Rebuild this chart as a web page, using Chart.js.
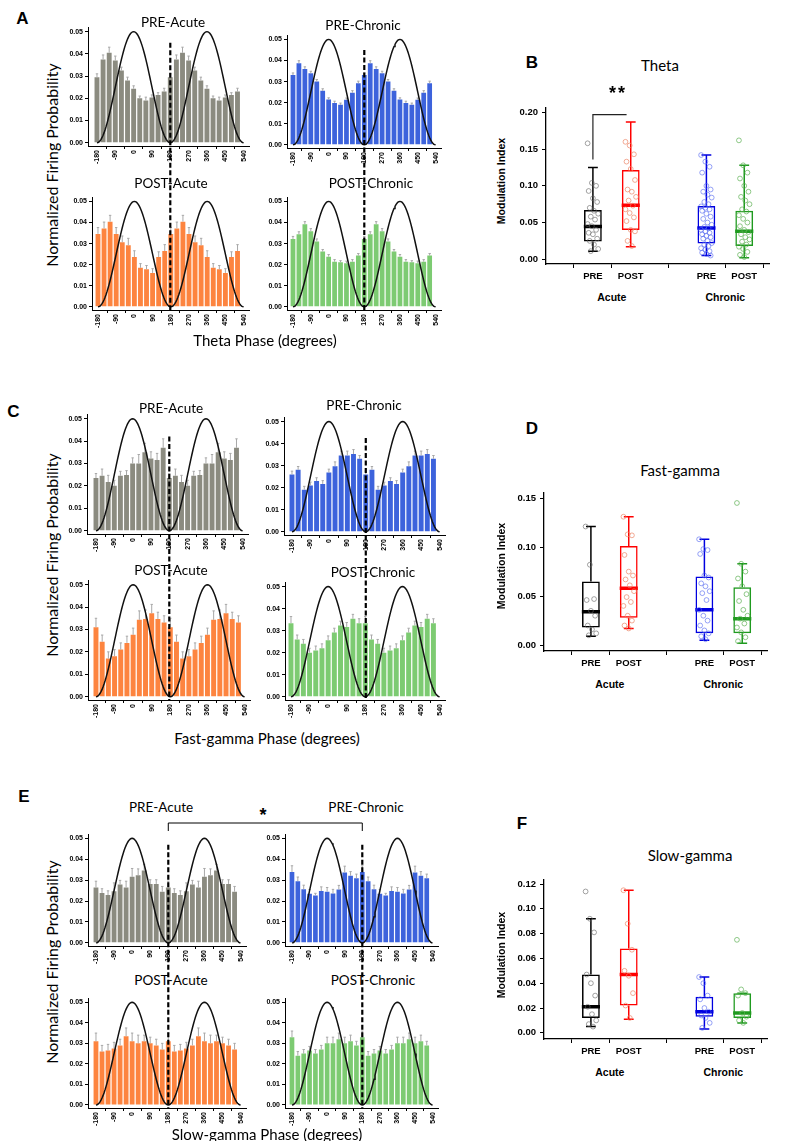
<!DOCTYPE html>
<html>
<head>
<meta charset="utf-8">
<script src="https://cdn.jsdelivr.net/npm/chart.js@4.4.1/dist/chart.umd.min.js"></script>
<style>
  html, body { margin:0; padding:0; background:#fff; }
  #page { position:relative; width:797px; height:1141px; overflow:hidden; background:#fff; }
  canvas { position:absolute; }
  .txt { position:absolute; white-space:nowrap; transform:translate(-50%,-50%); color:#000; line-height:1; }
  .ttl { font-family:Lato, 'Open Sans', sans-serif; font-size:13.5px; }
  .big { font-family:Lato, 'Open Sans', sans-serif; font-size:16px; }
  .let { font-family:'Liberation Sans', Arial, sans-serif; font-weight:bold; font-size:17px; }
  .bld { font-family:'Liberation Sans', Arial, sans-serif; font-weight:bold; }
  svg { position:absolute; left:0; top:0; }
</style>
</head>
<body>
<div id="page"></div>
<script>
// ---- phase histograms ----
const phaseBins = [-180,-150,-120,-90,-60,-30,0,30,60,90,120,150,180,210,240,270,300,330,360,390,420,450,480,510];
const phaseTicks = [-180,-90,0,90,180,270,360,450,540];
const probTicks = [0,0.01,0.02,0.03,0.04,0.05];

// one cycle (12 x 30 deg bins), plotted twice
const thetaPreAcute = [0.0295,0.0375,0.0405,0.037,0.0325,0.028,0.0243,0.020,0.019,0.0203,0.0215,0.023];
const thetaPreAcuteErr = [0.0015,0.002,0.0025,0.002,0.0015,0.0015,0.0013,0.001,0.0015,0.0012,0.001,0.0015];
const thetaPreChronic = [0.0331,0.0387,0.036,0.0339,0.030,0.0256,0.0215,0.0199,0.019,0.0214,0.0247,0.0292];
const thetaPreChronicErr = [0.001,0.0012,0.001,0.001,0.001,0.001,0.0008,0.0008,0.0008,0.0008,0.001,0.001];
const thetaPostAcute = [0.0346,0.0372,0.0404,0.0346,0.0306,0.0292,0.0236,0.0185,0.0178,0.0161,0.0236,0.0265];
const thetaPostAcuteErr = [0.003,0.003,0.003,0.003,0.003,0.0033,0.003,0.002,0.0018,0.002,0.0025,0.003];
const thetaPostChronic = [0.0322,0.0344,0.0392,0.0359,0.031,0.0262,0.0238,0.0214,0.0211,0.0207,0.0214,0.0243];
const thetaPostChronicErr = [0.0012,0.0012,0.0012,0.0012,0.0012,0.001,0.001,0.001,0.0008,0.001,0.001,0.001];

const fastPreAcute = [0.0235,0.0245,0.0217,0.020,0.0245,0.0248,0.030,0.030,0.035,0.0322,0.0315,0.037];
const fastPreAcuteErr = [0.002,0.003,0.003,0.0025,0.002,0.002,0.0025,0.004,0.004,0.003,0.003,0.004];
const fastPreChronic = [0.026,0.0281,0.0191,0.021,0.023,0.0217,0.0269,0.0297,0.0346,0.0346,0.0353,0.0331];
const fastPreChronicErr = [0.0015,0.0015,0.0015,0.0015,0.0015,0.0015,0.0015,0.002,0.002,0.002,0.002,0.0015];
const fastPostAcute = [0.031,0.0245,0.017,0.018,0.021,0.024,0.0276,0.0343,0.0347,0.0372,0.0347,0.0331];
const fastPostAcuteErr = [0.004,0.003,0.003,0.003,0.003,0.003,0.003,0.004,0.004,0.004,0.003,0.003];
const fastPostChronic = [0.0334,0.026,0.024,0.020,0.021,0.022,0.0256,0.0291,0.0323,0.0317,0.0354,0.0334];
const fastPostChronicErr = [0.003,0.002,0.002,0.002,0.002,0.002,0.002,0.002,0.002,0.002,0.002,0.002];

const slowPreAcute = [0.0265,0.0239,0.0229,0.0247,0.0279,0.0265,0.0316,0.0324,0.0346,0.0282,0.0282,0.0245];
const slowPreAcuteErr = [0.003,0.002,0.002,0.004,0.002,0.003,0.004,0.003,0.003,0.002,0.002,0.0025];
const slowPreChronic = [0.0339,0.0295,0.0256,0.0235,0.0227,0.0248,0.0245,0.0236,0.0255,0.0337,0.0321,0.0309];
const slowPreChronicErr = [0.003,0.002,0.002,0.002,0.001,0.002,0.002,0.002,0.002,0.003,0.002,0.002];
const slowPostAcute = [0.031,0.026,0.0265,0.0275,0.029,0.0335,0.031,0.030,0.031,0.030,0.029,0.027];
const slowPostAcuteErr = [0.004,0.003,0.003,0.003,0.003,0.004,0.004,0.004,0.003,0.003,0.003,0.003];
const slowPostChronic = [0.033,0.024,0.025,0.0265,0.025,0.027,0.030,0.030,0.032,0.030,0.031,0.029];
const slowPostChronicErr = [0.003,0.002,0.002,0.002,0.002,0.002,0.003,0.003,0.003,0.003,0.003,0.002];

// ---- modulation index box plots ----
const boxX = [1, 2, 4, 5];
const boxTicks = ['PRE', 'POST', 'PRE', 'POST'];
const groupNames = ['Acute', 'Chronic'];
// [min, q1, median, q3, max]: Acute PRE, Acute POST, Chronic PRE, Chronic POST
const thetaBoxes = [[0.011,0.024,0.0445,0.067,0.125],[0.017,0.0398,0.0737,0.1216,0.187],[0.005,0.0214,0.0424,0.0724,0.142],[0.002,0.018,0.038,0.066,0.128]];
const thetaAcutePre = [0.158,0.104,0.100,0.093,0.083,0.078,0.070,0.066,0.062,0.058,0.054,0.048,0.045,0.040,0.036,0.034,0.028,0.025,0.020,0.014,0.011];
const thetaAcutePost = [0.160,0.155,0.143,0.133,0.123,0.108,0.095,0.092,0.085,0.080,0.073,0.068,0.063,0.057,0.052,0.040,0.038,0.025,0.018];
const thetaChronicPre = [0.142,0.133,0.126,0.118,0.100,0.095,0.092,0.088,0.084,0.078,0.075,0.072,0.070,0.068,0.066,0.062,0.058,0.055,0.050,0.047,0.044,0.042,0.040,0.038,0.036,0.034,0.032,0.030,0.028,0.025,0.022,0.020,0.018,0.015,0.013,0.011,0.009,0.007,0.005];
const thetaChronicPost = [0.162,0.128,0.118,0.110,0.100,0.092,0.085,0.080,0.075,0.068,0.065,0.060,0.055,0.050,0.045,0.040,0.037,0.034,0.030,0.027,0.024,0.020,0.017,0.014,0.010,0.006,0.003];

const fastBoxes = [[0.009,0.018,0.034,0.065,0.121],[0.017,0.028,0.058,0.101,0.131],[0.005,0.012,0.036,0.070,0.108],[0.002,0.012,0.027,0.059,0.083]];
const fastAcutePre = [0.121,0.082,0.047,0.046,0.035,0.030,0.020,0.016,0.012,0.010];
const fastAcutePost = [0.131,0.113,0.112,0.092,0.075,0.071,0.067,0.061,0.055,0.049,0.044,0.040,0.030,0.025,0.020,0.017];
const fastChronicPre = [0.108,0.098,0.097,0.093,0.071,0.069,0.063,0.060,0.055,0.053,0.046,0.036,0.030,0.025,0.020,0.015,0.012,0.009,0.006];
const fastChronicPost = [0.145,0.083,0.075,0.068,0.060,0.052,0.045,0.036,0.030,0.027,0.022,0.018,0.013,0.008,0.004];

const slowBoxes = [[0.005,0.012,0.021,0.047,0.092],[0.011,0.022,0.047,0.068,0.115],[0.003,0.013,0.017,0.029,0.045],[0.008,0.012,0.016,0.032,0.032]];
const slowAcutePre = [0.114,0.092,0.081,0.047,0.040,0.030,0.021,0.015,0.010,0.007,0.005];
const slowAcutePost = [0.115,0.088,0.067,0.050,0.046,0.032,0.022,0.012];
const slowChronicPre = [0.045,0.040,0.030,0.027,0.020,0.017,0.014,0.012,0.008,0.004];
const slowChronicPost = [0.075,0.035,0.032,0.030,0.016,0.013,0.010,0.008];

const GREY = '#8b8b80', BLUE = '#3d63dc', ORANGE = '#fd843f', GREEN = '#7dcb72';
const boxColors = ['#000000', '#ff0000', '#0000e0', '#1f9a1f'];
const ptColors = ['rgba(100,100,100,0.75)', 'rgba(235,130,100,0.85)', 'rgba(80,100,240,0.75)', 'rgba(90,175,80,0.85)'];

Chart.defaults.font.family = "'Liberation Sans', Arial, sans-serif";
Chart.defaults.color = '#000';

const page = document.getElementById('page');

// reference phase wave (cosine, trough at +/-180)
const refWave = [];
for (let d = -180; d <= 540; d += 5) refWave.push({x: d, y: 0.025 * (1 + Math.cos(d * Math.PI / 180))});

function addCanvas(left, top, w, h) {
  const cv = document.createElement('canvas');
  cv.width = Math.round(w); cv.height = Math.round(h);
  cv.style.left = Math.round(left) + 'px'; cv.style.top = Math.round(top) + 'px';
  cv.style.width = Math.round(w) + 'px'; cv.style.height = Math.round(h) + 'px';
  page.appendChild(cv);
  return cv;
}

function addText(txt, x, y, cls, extra) {
  const d = document.createElement('div');
  d.className = 'txt ' + cls;
  d.textContent = txt;
  d.style.left = x + 'px'; d.style.top = y + 'px';
  if (extra) Object.assign(d.style, extra);
  page.appendChild(d);
  return d;
}

const errorBars = {
  id: 'errorBars',
  afterDatasetDraw(chart, args) {
    const ds = chart.data.datasets[args.index];
    if (!ds.errors) return;
    const ctx = chart.ctx, ys = chart.scales.y;
    ctx.save();
    ctx.strokeStyle = '#a8a8a8'; ctx.lineWidth = 1;
    args.meta.data.forEach((bar, i) => {
      const yt = ys.getPixelForValue(ds.data[i].y + ds.errors[i]);
      ctx.beginPath();
      ctx.moveTo(bar.x, bar.y); ctx.lineTo(bar.x, yt);
      ctx.moveTo(bar.x - 1.2, yt); ctx.lineTo(bar.x + 1.2, yt);
      ctx.stroke();
    });
    ctx.restore();
  }
};

const Y_MIN = -0.0015, Y_MAX = 0.052, YW = 24, XH = 22;

function hist(g, vals, errs, color) {
  const unit = (g.y00 - g.y05) / 0.05;
  const degPx = (g.x1 - g.x0) / 720;
  const top = g.y00 - Y_MAX * unit, bottom = g.y00 - Y_MIN * unit;
  const left = g.ax - YW, right = g.x1 + 6;
  const cv = addCanvas(left, top, right - left + 3, bottom - top + XH);
  return new Chart(cv, {
    type: 'bar',
    data: {
      datasets: [
        {type: 'line', data: refWave, borderColor: '#111', borderWidth: 1.5, pointRadius: 0, order: 0},
        {type: 'bar', data: phaseBins.map((x, i) => ({x, y: vals[i % 12]})), errors: phaseBins.map((x, i) => errs[i % 12]),
         backgroundColor: color, barPercentage: 0.8, categoryPercentage: 1, order: 1}
      ]
    },
    options: {
      responsive: false, animation: false, events: [],
      layout: {padding: 0},
      plugins: {legend: {display: false}, tooltip: {enabled: false}},
      scales: {
        x: {type: 'linear', offset: false, min: -180 - (g.x0 - g.ax) / degPx, max: 540 + 6 / degPx,
            afterBuildTicks: s => { s.ticks = phaseTicks.map(v => ({value: v})); },
            afterFit: s => { s.height = XH; },
            ticks: {autoSkip: false, minRotation: 90, maxRotation: 90, padding: 1, font: {size: 7, weight: 'bold'}},
            grid: {drawOnChartArea: false, tickLength: 3, color: '#000'},
            border: {color: '#000'}},
        y: {min: Y_MIN, max: Y_MAX,
            afterBuildTicks: s => { s.ticks = probTicks.map(v => ({value: v})); },
            afterFit: s => { s.width = YW; },
            ticks: {padding: 2, font: {size: 7, weight: 'bold'}, callback: v => v.toFixed(2)},
            grid: {drawOnChartArea: false, tickLength: 3, color: '#000'},
            border: {color: '#000'}}
      }
    },
    plugins: [errorBars]
  });
}

const BYW = 38, BXH = 22, XPX = 38, BXMIN = -0.24, BXMAX = 5.66;

function boxPlot(g, yTicks, stats, pts, extra) {
  const unit = (g.p0 - g.p1) / g.v1;
  const top = g.p0 - g.ymax * unit, bottom = g.p0 - g.ymin * unit;
  const left = g.ax - BYW, width = BYW + (BXMAX - BXMIN) * XPX + 4;
  const cv = addCanvas(left, top, width, bottom - top + BXH);
  const datasets = [];
  stats.forEach((s, i) => {
    const bx = boxX[i];
    datasets.push({type: 'scatter', data: pts[i].map((v, k) => ({x: bx + (((k * 37) % 11) - 5) * 0.028, y: v})),
      pointRadius: 2.4, pointBorderWidth: 0.8, borderColor: ptColors[i], backgroundColor: 'rgba(0,0,0,0)', order: 0});
    datasets.push({type: 'line', data: [{x: bx - 0.24, y: s[2]}, {x: bx + 0.24, y: s[2]}],
      borderColor: boxColors[i], borderWidth: 3.5, pointRadius: 0, order: 1});
    datasets.push({type: 'line', spanGaps: false, borderColor: boxColors[i], borderWidth: 1.5, pointRadius: 0, order: 2,
      data: [{x: bx, y: s[3]}, {x: bx, y: s[4]}, {x: bx, y: null},
             {x: bx - 0.13, y: s[4]}, {x: bx + 0.13, y: s[4]}, {x: bx, y: null},
             {x: bx, y: s[1]}, {x: bx, y: s[0]}, {x: bx, y: null},
             {x: bx - 0.13, y: s[0]}, {x: bx + 0.13, y: s[0]}]});
  });
  datasets.push({type: 'bar', data: stats.map((s, i) => ({x: boxX[i], y: [s[1], s[3]]})),
    backgroundColor: 'rgba(0,0,0,0)', borderColor: boxColors, borderWidth: 1.5, borderSkipped: false,
    barPercentage: 0.47, categoryPercentage: 1, order: 3});
  (extra || []).forEach(d => datasets.push(d));
  return new Chart(cv, {
    type: 'bar',
    data: {datasets},
    options: {
      responsive: false, animation: false, events: [],
      layout: {padding: 0},
      plugins: {legend: {display: false}, tooltip: {enabled: false}},
      scales: {
        x: {type: 'linear', offset: false, min: BXMIN, max: BXMAX,
            afterBuildTicks: s => { s.ticks = boxX.map(v => ({value: v})); },
            afterFit: s => { s.height = BXH; },
            ticks: {autoSkip: false, maxRotation: 0, padding: 3, font: {size: 9.5, weight: 'bold'}, callback: (v, i) => boxTicks[i]},
            grid: {drawOnChartArea: false, tickLength: 4, color: '#000'},
            border: {color: '#000', width: 1.3}},
        y: {min: g.ymin, max: g.ymax,
            afterBuildTicks: s => { s.ticks = yTicks.map(v => ({value: v})); },
            afterFit: s => { s.width = BYW; },
            ticks: {padding: 4, font: {size: 9.5, weight: 'bold'}, callback: v => v.toFixed(2)},
            grid: {drawOnChartArea: false, tickLength: 4, color: '#000'},
            border: {color: '#000', width: 1.3}}
      }
    }
  });
}

// ---------- panel A (theta) ----------
const aTL = hist({ax: 88, y05: 26, y00: 143, x0: 97, x1: 244}, thetaPreAcute, thetaPreAcuteErr, GREY);
const aTR = hist({ax: 287, y05: 33, y00: 144, x0: 293, x1: 436}, thetaPreChronic, thetaPreChronicErr, BLUE);
const aBL = hist({ax: 92, y05: 195, y00: 306, x0: 98, x1: 244}, thetaPostAcute, thetaPostAcuteErr, ORANGE);
const aBR = hist({ax: 287, y05: 195, y00: 306, x0: 293, x1: 436}, thetaPostChronic, thetaPostChronicErr, GREEN);
// ---------- panel C (fast gamma) ----------
const cTL = hist({ax: 87, y05: 413, y00: 531, x0: 96, x1: 243}, fastPreAcute, fastPreAcuteErr, GREY);
const cTR = hist({ax: 284, y05: 416, y00: 532, x0: 292, x1: 440}, fastPreChronic, fastPreChronicErr, BLUE);
const cBL = hist({ax: 88, y05: 579, y00: 697, x0: 96, x1: 245}, fastPostAcute, fastPostAcuteErr, ORANGE);
const cBR = hist({ax: 285, y05: 581, y00: 697, x0: 291, x1: 440}, fastPostChronic, fastPostChronicErr, GREEN);
// ---------- panel E (slow gamma) ----------
const eTL = hist({ax: 88, y05: 832, y00: 942, x0: 96, x1: 241}, slowPreAcute, slowPreAcuteErr, GREY);
const eTR = hist({ax: 285, y05: 832, y00: 942, x0: 292, x1: 433}, slowPreChronic, slowPreChronicErr, BLUE);
const eBL = hist({ax: 88, y05: 996, y00: 1104, x0: 96, x1: 241}, slowPostAcute, slowPostAcuteErr, ORANGE);
const eBR = hist({ax: 285, y05: 996, y00: 1104, x0: 292, x1: 433}, slowPostChronic, slowPostChronicErr, GREEN);

// ---------- box plots ----------
const sigBracket = {type: 'line', data: [{x: 1, y: 0.136}, {x: 1, y: 0.197}, {x: 1.89, y: 0.197}],
  borderColor: '#222', borderWidth: 1.2, pointRadius: 0, order: 0};
const bBox = boxPlot({ax: 546, v1: 0.20, p1: 103.3, p0: 259, ymin: -0.0065, ymax: 0.2065},
  [0, 0.05, 0.10, 0.15, 0.20], thetaBoxes, [thetaAcutePre, thetaAcutePost, thetaChronicPre, thetaChronicPost], [sigBracket]);
const dBox = boxPlot({ax: 544, v1: 0.15, p1: 489, p0: 645, ymin: -0.006, ymax: 0.1555},
  [0, 0.05, 0.10, 0.15], fastBoxes, [fastAcutePre, fastAcutePost, fastChronicPre, fastChronicPost]);
const fBox = boxPlot({ax: 544, v1: 0.12, p1: 875, p0: 1033, ymin: -0.005, ymax: 0.1235},
  [0, 0.02, 0.04, 0.06, 0.08, 0.10, 0.12], slowBoxes, [slowAcutePre, slowAcutePost, slowChronicPre, slowChronicPost]);

// ---------- text ----------
const px = (c, v) => c.canvas.offsetLeft + c.scales.x.getPixelForValue(v);
const py = (c, v) => c.canvas.offsetTop + c.scales.y.getPixelForValue(v);

addText('A', 22.5, 18, 'let');
addText('C', 13.5, 411, 'let');
addText('E', 24, 796, 'let');
addText('B', 532, 62, 'let');
addText('D', 532, 428, 'let');
addText('F', 522, 823, 'let');

addText('PRE-Acute', 173, 23, 'ttl');
addText('PRE-Chronic', 363, 26, 'ttl');
addText('POST-Acute', 171, 184, 'ttl');
addText('POST-Chronic', 371, 184, 'ttl');
addText('PRE-Acute', 171, 409, 'ttl');
addText('PRE-Chronic', 364, 406, 'ttl');
addText('POST-Acute', 171, 571, 'ttl');
addText('POST-Chronic', 373, 573, 'ttl');
addText('PRE-Acute', 161, 808, 'ttl');
addText('PRE-Chronic', 366, 808, 'ttl');
addText('POST-Acute', 171, 981, 'ttl');
addText('POST-Chronic', 373, 981, 'ttl');

addText('Theta Phase (degrees)', 265, 340, 'big', {fontSize: '15px'});
addText('Fast-gamma Phase (degrees)', 267, 738, 'big', {fontSize: '15px'});
addText('Slow-gamma Phase (degrees)', 267, 1134, 'big', {fontSize: '15px'});
[165, 555, 962].forEach(y => addText('Normalized Firing Probability', 52, y, 'big', {transform: 'translate(-50%,-50%) rotate(-90deg)'}));

addText('Theta', 660, 65, 'ttl', {fontSize: '15px'});
addText('Fast-gamma', 680, 470, 'ttl', {fontSize: '15px'});
addText('Slow-gamma', 690, 855, 'ttl', {fontSize: '15px'});
[[bBox, 181], [dBox, 566], [fBox, 955]].forEach(([c, y]) => {
  addText('Modulation Index', 501, y, 'bld', {fontSize: '10.5px', transform: 'translate(-50%,-50%) rotate(-90deg)'});
  const yb = c.canvas.offsetTop + c.chartArea.bottom + 33;
  addText(groupNames[0], px(c, 1.5), yb, 'bld', {fontSize: '10.5px'});
  addText(groupNames[1], px(c, 4.5), yb, 'bld', {fontSize: '10.5px'});
});
addText('**', 618, 93, 'bld', {fontSize: '18px', letterSpacing: '2px'});
addText('*', 263, 815, 'bld', {fontSize: '18px'});

// ---------- dashed phase markers and bracket ----------
const NS = 'http://www.w3.org/2000/svg';
const svg = document.createElementNS(NS, 'svg');
svg.setAttribute('width', 797); svg.setAttribute('height', 1141);
page.appendChild(svg);
function svgLine(pts, dash, w) {
  const p = document.createElementNS(NS, 'polyline');
  p.setAttribute('points', pts.map(q => q.join(',')).join(' '));
  p.setAttribute('fill', 'none'); p.setAttribute('stroke', '#000');
  p.setAttribute('stroke-width', w);
  if (dash) p.setAttribute('stroke-dasharray', dash);
  svg.appendChild(p);
}
[[aTL, aBL, 0.045], [aTR, aBR, 0.045], [cTL, cBL, 0.042], [cTR, cBR, 0.0425], [eTL, eBL, 0.047], [eTR, eBR, 0.047]].forEach(([t, b, v]) => {
  const x = px(t, 180);
  svgLine([[x, py(t, v)], [x, py(b, Y_MIN) + 1]], '5 2.5', 2.2);
});
const ex1 = px(eTL, 180), ex2 = px(eTR, 180);
svgLine([[ex1, 831], [ex1, 823], [ex2, 823], [ex2, 831]], null, 1);
</script>
</body>
</html>
